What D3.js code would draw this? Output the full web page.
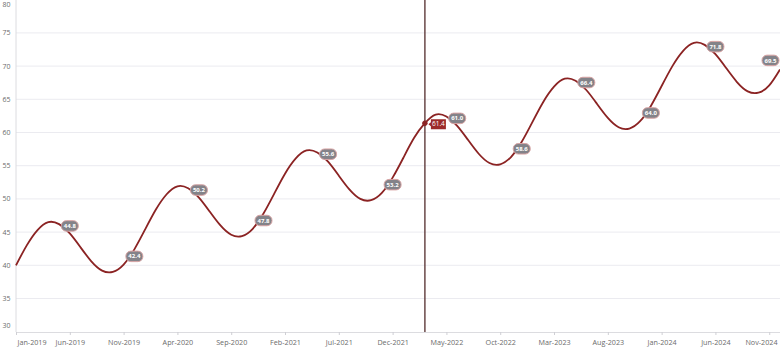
<!DOCTYPE html>
<html>
<head>
<meta charset="utf-8">
<script src="https://cdn.jsdelivr.net/npm/d3@7"></script>
<style>
  html, body { margin: 0; padding: 0; background: #fff; }
  svg { display: block; font-family: "Open Sans", "Noto Sans", sans-serif; }
</style>
</head>
<body>
<svg id="chart" width="780" height="349"></svg>
<script>
// ---- data ----
const startMonth = "2019-01";
const values = [
  40.0, 43.0, 45.3, 46.5, 46.2, 44.8, 42.7, 40.6, 39.2, 39.0, 40.1, 42.4,
  45.4, 48.4, 50.7, 51.9, 51.6, 50.2, 48.1, 46.0, 44.6, 44.4, 45.5, 47.8,
  50.8, 53.8, 56.1, 57.3, 57.0, 55.6, 53.5, 51.4, 50.0, 49.8, 50.9, 53.2,
  56.2, 59.2, 61.4, 62.7, 62.4, 61.0, 58.9, 56.8, 55.4, 55.2, 56.3, 58.6,
  61.6, 64.6, 66.9, 68.1, 67.8, 66.4, 64.3, 62.2, 60.8, 60.6, 61.7, 64.0,
  67.0, 70.0, 72.3, 73.5, 73.2, 71.8, 69.7, 67.6, 66.2, 66.0, 67.1, 69.5
];
const tickLabels = ["Jan-2019","Jun-2019","Nov-2019","Apr-2020","Sep-2020","Feb-2021","Jul-2021",
  "Dec-2021","May-2022","Oct-2022","Mar-2023","Aug-2023","Jan-2024","Jun-2024","Nov-2024"];
const yTicks = [30, 35, 40, 45, 50, 55, 60, 65, 70, 75, 80];
const labelledMonths = ["Jun-2019","Dec-2019","Jun-2020","Dec-2020","Jun-2021","Dec-2021",
  "Jun-2022","Dec-2022","Jun-2023","Dec-2023","Jun-2024","Dec-2024"];
const highlightMonth = "Mar-2022";

(function () {
// ---- build ----
const fmt = d3.timeFormat("%b-%Y");
const start = d3.timeParse("%Y-%m")(startMonth);
const months = values.map((v, i) => fmt(d3.timeMonth.offset(start, i)));
const data = months.map((m, i) => ({ m, v: values[i], i }));

const svg = d3.select("#chart");
const padL = 16, padR = 780, axisY = 332;

const x = d3.scalePoint().domain(months).range([padL, padR]);
const y = d3.scaleLinear().domain([30, 80]).range([331.7, -0.3]);

// gridlines
svg.append("g").selectAll("line")
  .data(yTicks.filter(t => t > 30 && t < 80))
  .join("line")
  .attr("x1", padL).attr("x2", padR)
  .attr("y1", d => y(d)).attr("y2", d => y(d))
  .attr("stroke", "#ebebf0").attr("stroke-width", 1);

// y axis line
svg.append("line")
  .attr("x1", padL).attr("x2", padL).attr("y1", 0).attr("y2", axisY)
  .attr("stroke", "#dcdce0").attr("stroke-width", 1);

// y labels
svg.append("g").selectAll("text")
  .data(yTicks).join("text")
  .attr("x", 10.5)
  .attr("y", d => Math.min(326, Math.max(5, y(d))))
  .attr("dy", "0.35em")
  .attr("text-anchor", "end")
  .attr("font-size", 7)
  .attr("fill", "#6b6b6b")
  .text(d => d);

// x axis
const xAxis = d3.axisBottom(x).tickValues(tickLabels).tickSize(3).tickPadding(5);
const gx = svg.append("g").attr("transform", `translate(0,${axisY})`).call(xAxis);
gx.select(".domain").attr("stroke", "#dcdce0");
gx.selectAll(".tick line").attr("stroke", "#cfcfd4");
gx.selectAll(".tick text")
  .attr("font-size", 7.2).attr("fill", "#6b6b6b")
  .attr("font-family", "'Open Sans', 'Noto Sans', sans-serif")
  .each(function(d) {
    const w = this.getComputedTextLength();
    const cx = x(d);
    let shift = 0;
    if (cx - w / 2 < padL + 1) shift = (padL + 1) - (cx - w / 2);
    if (cx + w / 2 > 777) shift = 777 - (cx + w / 2);
    d3.select(this).attr("x", shift);
  });

// highlight vertical line
svg.append("line")
  .attr("x1", x(highlightMonth)).attr("x2", x(highlightMonth))
  .attr("y1", 0).attr("y2", axisY)
  .attr("stroke", "#5e3a3a").attr("stroke-width", 1.4);

// line
const line = d3.line().x(d => x(d.m)).y(d => y(d.v)).curve(d3.curveNatural);
svg.append("path").datum(data)
  .attr("d", line)
  .attr("fill", "none")
  .attr("stroke", "#8b2323")
  .attr("stroke-width", 1.8);

// data labels
const lab = svg.append("g");
const labelled = data.filter(d => labelledMonths.includes(d.m));
labelled.forEach((d, k) => {
  const next = data[d.i + 1];
  const isLast = k === labelled.length - 1;
  const descending = next ? next.v < d.v : true;
  const dy = isLast ? -9 : (descending ? -7.5 : 7);
  const bw = 17, bh = 10.5;
  let cx = x(d.m);
  if (cx + bw / 2 > padR - 1) cx = padR - 1 - bw / 2;
  const cy = y(d.v) + dy;
  const g = lab.append("g").attr("transform", `translate(${cx},${cy})`);
  g.append("rect")
    .attr("x", -bw / 2).attr("y", -bh / 2).attr("width", bw).attr("height", bh)
    .attr("rx", 5).attr("ry", 5)
    .attr("fill", "#838389").attr("stroke", "#d8a3a3").attr("stroke-width", 1);
  g.append("text")
    .attr("text-anchor", "middle").attr("dy", "0.35em")
    .attr("font-size", 6).attr("font-weight", "bold").attr("fill", "#fff")
    .text(d.v.toFixed(1));
});

// highlighted point + tooltip label
const hd = data.find(d => d.m === highlightMonth);
const hx = x(hd.m), hy = y(hd.v);
svg.append("circle").attr("cx", hx).attr("cy", hy).attr("r", 2.3)
  .attr("fill", "#8b2323").attr("stroke", "#8b2323");
const hg = svg.append("g").attr("transform", `translate(${hx + 6},${hy + 1})`);
hg.append("path")
  .attr("d", "M0,-5 L15,-5 L15,5 L0,5 L0,2 L-2.5,0 L0,-2 Z")
  .attr("fill", "#9c2a2a");
hg.append("text")
  .attr("x", 7.5).attr("dy", "0.35em").attr("text-anchor", "middle")
  .attr("font-size", 6.5).attr("fill", "#fff")
  .text(hd.v.toFixed(1));
})();
</script>
</body>
</html>
